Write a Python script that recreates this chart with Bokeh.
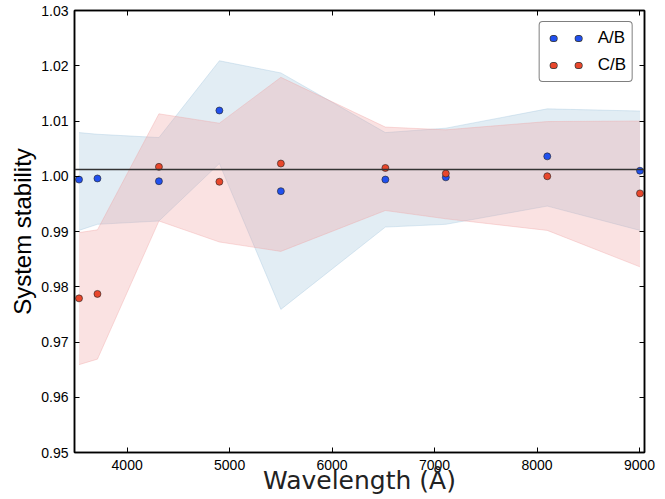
from bokeh.plotting import figure
from bokeh.models import (ColumnDataSource, FixedTicker, PrintfTickFormatter, LinearAxis,
                          Span, Legend, LegendItem, Range1d)
from bokeh.embed import file_html
from bokeh.resources import INLINE

# ---- data ----
wavelength = [3530, 3710, 4310, 4900, 5500, 6520, 7110, 8100, 9005]
ab_ratio = [0.9994, 0.9996, 0.9991, 1.0119, 0.9973, 0.9994, 0.9998, 1.0036, 1.0010]
ab_upper = [1.0079, 1.0076, 1.0070, 1.0209, 1.0187, 1.0079, 1.0087, 1.0122, 1.0118]
ab_lower = [0.9902, 0.9913, 0.9919, 1.0023, 0.9759, 0.9908, 0.9913, 0.9946, 0.9902]
cb_ratio = [0.9779, 0.9787, 1.0017, 0.9990, 1.0023, 1.0015, 1.0005, 1.0000, 0.9969]
cb_upper = [0.9898, 0.9903, 1.0113, 1.0096, 1.0179, 1.0089, 1.0084, 1.0099, 1.0100]
cb_lower = [0.9659, 0.9669, 0.9919, 0.9881, 0.9864, 0.9938, 0.9923, 0.9902, 0.9836]
reference_level = 1.0012
x_ticks = [4000, 5000, 6000, 7000, 8000, 9000]
y_ticks = [0.95, 0.96, 0.97, 0.98, 0.99, 1.00, 1.01, 1.02, 1.03]
series_labels = ["A/B", "C/B"]
x_title = "Wavelength (Å)"
y_title = "System stability"

BLUE = "#2150ee"
RED = "#e8472c"
BLUE_BAND = "#9ec2dc"
RED_BAND = "#f0a0a0"

src = ColumnDataSource(dict(x=wavelength, ab=ab_ratio, ab_hi=ab_upper, ab_lo=ab_lower,
                            cb=cb_ratio, cb_hi=cb_upper, cb_lo=cb_lower))

p = figure(width=663, height=497, output_backend="svg", toolbar_location=None,
           x_range=Range1d(3486, 9049), y_range=Range1d(0.95, 1.03),
           min_border_left=74, min_border_right=19, min_border_top=10, min_border_bottom=45,
           background_fill_color="white", border_fill_color="white")
p.grid.visible = False
p.outline_line_color = "black"
p.outline_line_width = 1.5

# bands
p.varea(x="x", y1="ab_lo", y2="ab_hi", source=src, fill_color=BLUE_BAND, fill_alpha=0.3)
p.line(x="x", y="ab_hi", source=src, line_color=BLUE_BAND, line_alpha=0.35, line_width=1)
p.line(x="x", y="ab_lo", source=src, line_color=BLUE_BAND, line_alpha=0.35, line_width=1)
p.varea(x="x", y1="cb_lo", y2="cb_hi", source=src, fill_color=RED_BAND, fill_alpha=0.3)
p.line(x="x", y="cb_hi", source=src, line_color=RED_BAND, line_alpha=0.35, line_width=1)
p.line(x="x", y="cb_lo", source=src, line_color=RED_BAND, line_alpha=0.35, line_width=1)

p.add_layout(Span(location=reference_level, dimension="width", line_color="#333333", line_width=1.5))

p.scatter(x="x", y="ab", source=src, size=7, fill_color=BLUE, line_color="#222222", line_width=0.6)
p.scatter(x="x", y="cb", source=src, size=7, fill_color=RED, line_color="#222222", line_width=0.6)

# legend glyphs: two dots per entry, drawn as round-capped short dashes (proxy lines, not plotted)
nan = float("nan")
def legend_dots(color):
    edge = p.line(x=[nan], y=[nan], line_color="#333333", line_width=7, line_cap="round",
                  line_dash="1 24", line_dash_offset=18)
    face = p.line(x=[nan], y=[nan], line_color=color, line_width=5.6, line_cap="round",
                  line_dash="1 24", line_dash_offset=18)
    return [edge, face]

legend = Legend(items=[LegendItem(label=series_labels[0], renderers=legend_dots(BLUE)),
                       LegendItem(label=series_labels[1], renderers=legend_dots(RED))],
                location="top_right", margin=11, padding=6, spacing=7,
                glyph_width=41, glyph_height=20, label_height=20, label_standoff=11,
                label_text_font="Liberation Sans", label_text_font_size="17px",
                label_text_color="black", border_line_color="black", border_line_width=1,
                border_radius=4, background_fill_color="white", background_fill_alpha=1)
p.add_layout(legend)

def style_axis(ax, ticks, show_labels):
    ax.ticker = FixedTicker(ticks=ticks)
    ax.axis_line_color = "black"
    ax.axis_line_width = 1.5
    ax.major_tick_in = 5
    ax.major_tick_out = 0
    ax.major_tick_line_color = "black"
    ax.major_tick_line_width = 1
    ax.minor_tick_in = 0
    ax.minor_tick_out = 0
    if show_labels:
        ax.major_label_text_font = "Liberation Sans"
        ax.major_label_text_font_size = "14px"
        ax.major_label_text_color = "black"
    else:
        ax.major_label_text_font_size = "1px"
        ax.major_label_text_color = None
        ax.major_label_standoff = 0

xb = p.xaxis[0]
style_axis(xb, x_ticks, True)
xb.major_label_standoff = 7
xb.axis_label = x_title
xb.axis_label_text_font = "DejaVu Sans"
xb.axis_label_text_font_size = "25px"
xb.axis_label_text_font_style = "normal"
xb.axis_label_text_color = "#222222"
xb.axis_label_standoff = -7

yl = p.yaxis[0]
style_axis(yl, y_ticks, True)
yl.formatter = PrintfTickFormatter(format="%.2f")
yl.major_label_standoff = 6
yl.axis_label = y_title
yl.axis_label_text_font = "Liberation Sans"
yl.axis_label_text_font_size = "24px"
yl.axis_label_text_font_style = "normal"
yl.axis_label_text_color = "black"
yl.axis_label_standoff = 2

top = LinearAxis()
style_axis(top, x_ticks, False)
p.add_layout(top, "above")

right = LinearAxis()
style_axis(right, y_ticks, False)
p.add_layout(right, "right")

open("out.html", "w").write(file_html(p, INLINE))
